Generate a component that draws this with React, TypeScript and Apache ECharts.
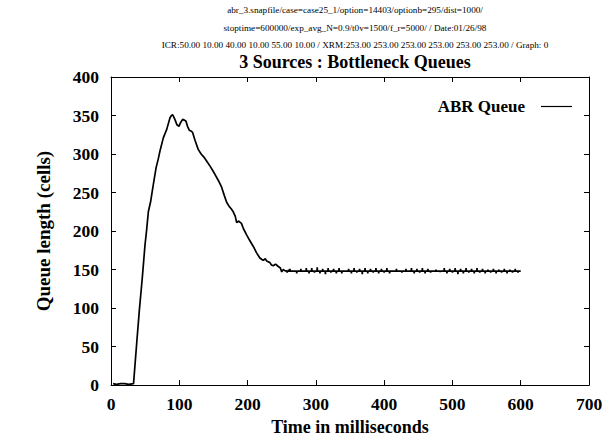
import React, { useEffect, useRef } from "react";
import * as echarts from "echarts";

const headerLines = [
  "abr_3.snapfile/case=case25_1/option=14403/optionb=295/dist=1000/",
  "stoptime=600000/exp_avg_N=0.9/t0v=1500/f_r=5000/ / Date:01/26/98",
  "ICR:50.00 10.00 40.00 10.00 55.00 10.00 / XRM:253.00 253.00 253.00 253.00 253.00 253.00 / Graph: 0",
];
const chartTitle = "3 Sources : Bottleneck Queues";
const seriesName = "ABR Queue";
const xAxisName = "Time in milliseconds";
const yAxisName = "Queue length (cells)";

// Transient part of the queue: [time ms, cells]
const transientPoints: [number, number][] = [
  [3, 2], [8, 1], [14, 2], [20, 2], [26, 1], [33, 2],
  [37.6, 54], [41.5, 97], [45.9, 140], [49.8, 182], [52, 200], [54.7, 225],
  [58, 238], [61, 255], [63.4, 268], [66, 282], [69.3, 294], [72, 305],
  [76.6, 321], [81.6, 332], [86.4, 347], [88.5, 350], [90.4, 351], [92, 348],
  [94, 344], [96.5, 338], [99.5, 336], [102, 341], [104.9, 345], [107.5, 344],
  [109.7, 343], [112, 336], [114.6, 331], [117, 330], [119.5, 328], [123, 318],
  [127.7, 306], [132, 300], [136, 296], [140, 291], [146, 283], [152, 274],
  [157, 266], [162, 257], [166, 246], [169.5, 237], [173, 232], [176, 229],
  [179, 225], [182, 219], [184, 211], [187, 213], [191, 210], [194, 203],
  [198.6, 195], [203, 188], [208.4, 180], [213, 172], [218, 165], [221, 163],
  [223, 162], [226, 164], [228, 161], [232.8, 159], [235, 156], [237.7, 155],
  [241, 157], [245, 154], [248, 152], [250, 147], [252.4, 150], [254, 149],
];

// Steady part: one sample every 2 ms starting at 256 ms, settling level 148 cells
const steadyLevel = 148;
const steadyStart = 256;
const steadyStep = 2;
const steadyEnd = 600;
const steadyValues: number[] = [
  149, 146, 150, 151, 148, 148, 148, 148, 145, 148,
  148, 151, 148, 148, 148, 152, 148, 145, 148, 152,
  148, 146, 148, 153, 148, 145, 148, 151, 148, 144,
  148, 152, 148, 146, 148, 151, 148, 145, 148, 152,
  148, 145, 148, 148, 148, 148, 151, 148, 145, 148,
  152, 148, 146, 148, 151, 148, 144, 148, 152, 148,
  145, 148, 151, 148, 146, 148, 152, 148, 145, 148,
  151, 148, 146, 148, 152, 148, 145, 148, 148, 148,
  148, 151, 148, 148, 148, 146, 148, 148, 151, 148,
  148, 148, 152, 148, 145, 148, 151, 148, 146, 148,
  152, 148, 145, 148, 151, 148, 146, 148, 148, 148,
  150, 148, 148, 147, 148, 148, 152, 148, 145, 148,
  151, 148, 146, 148, 152, 148, 144, 148, 151, 148,
  145, 148, 152, 148, 146, 148, 151, 148, 145, 148,
  152, 148, 146, 148, 151, 148, 145, 148, 150, 148,
  146, 148, 151, 148, 145, 148, 150, 148, 146, 148,
  151, 148, 145, 148, 150, 148, 146, 148, 151, 148,
  146, 148, 148,
];

const xMin = 0, xMax = 700, xInterval = 100;
const yMin = 0, yMax = 400, yInterval = 50;

const FONT = "Liberation Serif";

export default function App() {
  const ref = useRef<HTMLDivElement>(null);
  useEffect(() => {
    if (!ref.current) return;
    const chart = echarts.init(ref.current, undefined, { renderer: "svg" });
    const data: [number, number][] = [...transientPoints];
    steadyValues.forEach((v, i) => {
      const t = steadyStart + i * steadyStep;
      if (v === steadyLevel) {
        data.push([t, v]);
      } else {
        // narrow spike around the settling level
        data.push([t - 0.35, steadyLevel], [t, v], [t + 0.35, steadyLevel]);
      }
    });
    data.push([steadyEnd, steadyLevel]);
    const tickStyle = { show: true, inside: true, length: 5, lineStyle: { color: "#000", width: 1 } };
    const lineStyle = { show: true, onZero: false, lineStyle: { color: "#000", width: 1 } };
    const labelStyle = { color: "#000", fontFamily: FONT, fontWeight: "bold" as const, fontSize: 17.5 };
    chart.setOption({
      animation: false,
      backgroundColor: "#fff",
      grid: { left: 111, right: 27, top: 77, bottom: 52, containLabel: false },
      title: [
        ...headerLines.map((t, i) => ({
          text: t,
          left: 350,
          top: 0.5 + i * 17.5,
          textAlign: "center",
          textStyle: { fontFamily: FONT, fontSize: 9.2, fontWeight: "normal", color: "#000" },
        })),
        {
          text: chartTitle,
          left: 350,
          top: 48,
          textAlign: "center",
          textStyle: { fontFamily: FONT, fontSize: 18, fontWeight: "bold", color: "#000" },
        },
      ],
      legend: {
        right: 39,
        top: 93,
        align: "right",
        icon: "rect",
        itemWidth: 31,
        itemHeight: 1.2,
        data: [{ name: seriesName, itemStyle: { color: "#000" } }],
        selectedMode: false,
        textStyle: { fontFamily: FONT, fontSize: 17, fontWeight: "bold", color: "#000", padding: [0, 11, 0, 0] },
      },
      xAxis: [
        {
          type: "value", min: xMin, max: xMax, interval: xInterval, position: "bottom",
          name: xAxisName, nameLocation: "middle", nameGap: 23,
          nameTextStyle: { ...labelStyle, fontSize: 18 },
          axisLine: lineStyle, axisTick: tickStyle,
          axisLabel: { ...labelStyle, margin: 10 },
          splitLine: { show: false },
        },
        {
          type: "value", min: xMin, max: xMax, interval: xInterval, position: "top",
          axisLine: lineStyle, axisTick: tickStyle, axisLabel: { show: false }, splitLine: { show: false },
        },
      ],
      yAxis: [
        {
          type: "value", min: yMin, max: yMax, interval: yInterval, position: "left",
          name: yAxisName, nameLocation: "middle", nameGap: 58, nameRotate: 90,
          nameTextStyle: { ...labelStyle, fontSize: 19 },
          axisLine: lineStyle, axisTick: tickStyle,
          axisLabel: { ...labelStyle, margin: 12 },
          splitLine: { show: false },
        },
        {
          type: "value", min: yMin, max: yMax, interval: yInterval, position: "right",
          axisLine: lineStyle, axisTick: tickStyle, axisLabel: { show: false }, splitLine: { show: false },
        },
      ],
      series: [
        {
          name: seriesName,
          type: "line",
          xAxisIndex: 0,
          yAxisIndex: 0,
          data,
          showSymbol: false,
          symbol: "none",
          color: "#000",
          lineStyle: { color: "#000", width: 1.7 },
        },
      ],
    });
    return () => chart.dispose();
  }, []);
  return <div ref={ref} style={{ width: 616, height: 441, position: "absolute", left: 0, top: 0 }} />;
}
